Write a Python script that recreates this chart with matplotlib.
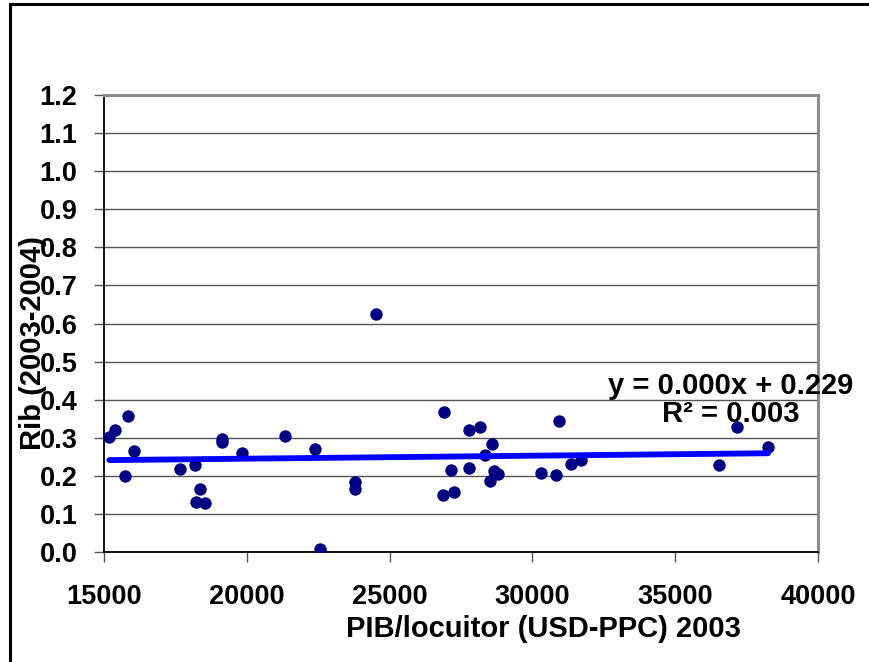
import matplotlib
matplotlib.use("Agg")
import matplotlib.pyplot as plt
from matplotlib.patches import Rectangle
import numpy as np

# PIB per locuitor (USD-PPC) 2003 vs Rib (2003-2004)
pib = [15190, 15390, 15855, 16065, 15750, 17675, 18180, 18365, 18215, 18540,
       19145, 19145, 19825, 21340, 22390, 24515, 23780, 23780, 22580, 26900,
       27775, 28170, 27165, 27795, 26865, 27260, 28580, 28345, 28660, 28810,
       28520, 30925, 30315, 30840, 31345, 31715, 37165, 38250, 36540]
rib = [0.301, 0.320, 0.358, 0.264, 0.199, 0.218, 0.228, 0.164, 0.130, 0.127,
       0.297, 0.288, 0.259, 0.304, 0.269, 0.624, 0.184, 0.165, 0.007, 0.367,
       0.319, 0.327, 0.215, 0.221, 0.149, 0.158, 0.283, 0.253, 0.213, 0.204,
       0.187, 0.343, 0.206, 0.201, 0.231, 0.240, 0.327, 0.276, 0.228]

# trendline as shown by the chart
slope = 7.8e-7
intercept = 0.229
eq_text = "y = 0.000x + 0.229\nR² = 0.003"

x_ticks = [15000, 20000, 25000, 30000, 35000, 40000]
y_ticks = [i / 10 for i in range(13)]

plt.rcParams['font.family'] = ['Liberation Sans', 'DejaVu Sans']
plt.rcParams['font.weight'] = 'bold'

W, H = 870, 662
fig = plt.figure(figsize=(W / 100, H / 100), dpi=100)
ax = fig.add_axes([103.9 / W, 1 - 551.7 / H, 714.0 / W, 456.4 / H])

# outer chart border
fig.add_artist(Rectangle((10 / W, -0.1), 2.0, 1.1 - 4 / H, transform=fig.transFigure,
                         fill=False, edgecolor='black', linewidth=2.2, clip_on=False))

ax.set_xlim(15000, 40000)
ax.set_ylim(0, 1.2)
ax.set_xticks(x_ticks)
ax.set_yticks(y_ticks)
ax.set_yticklabels(["%.1f" % v for v in y_ticks])
ax.grid(axis='y', color='#555555', linewidth=1.0)
ax.set_axisbelow(True)

ax.tick_params(axis='both', direction='out', length=7, width=1, color='#555555',
               labelsize=19.5)
ax.tick_params(axis='y', pad=12)
ax.tick_params(axis='x', pad=16.5)
for lab in ax.get_xticklabels() + ax.get_yticklabels():
    lab.set_fontweight('bold')

for side in ['left', 'bottom']:
    ax.spines[side].set_color('black')
    ax.spines[side].set_linewidth(1.3)
for side in ['top', 'right']:
    ax.spines[side].set_color('#8c8c8c')
    ax.spines[side].set_linewidth(2.2)

ax.scatter(pib, rib, s=80, color='#000080', zorder=3, linewidths=0)

tx = np.array([min(pib), max(pib)])
ax.plot(tx, slope * tx + intercept, color='#0000ff', linewidth=4.2, zorder=4,
        solid_capstyle='round')

ax.text(36950, 0.40, eq_text, ha='center', va='center', fontsize=21,
        fontweight='bold', linespacing=1.0, zorder=5)

fig.text(543 / W, 1 - 629 / H, "PIB/locuitor (USD-PPC) 2003", ha='center',
         va='center', fontsize=21, fontweight='bold')
fig.text(33 / W, 1 - 343 / H, "Rib (2003-2004)", ha='center', va='center',
         rotation=90, fontsize=21, fontweight='bold')

fig.savefig("out.png", dpi=100)
